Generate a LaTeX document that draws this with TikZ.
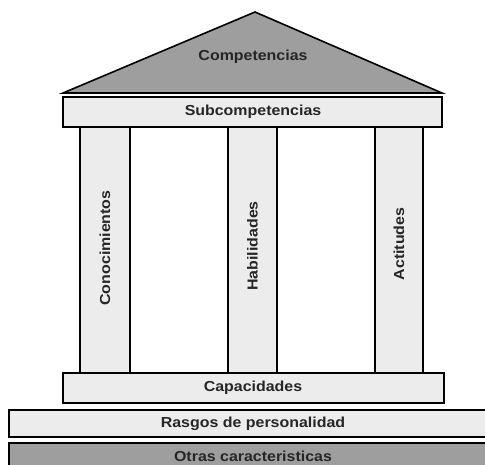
\documentclass[tikz,border=0pt]{standalone}
\usepackage{fontspec}
\setmainfont{Liberation Sans}
\newfontfamily\lblfont[FakeStretch=1.1]{Liberation Sans}
\begin{document}
\begin{tikzpicture}[x=1pt,y=-1pt,
  light/.style={draw=black,line width=1.6pt,fill=lightgray!30},
  dark/.style={draw=black,line width=1.6pt,fill=black!38},
  lbl/.style={font=\lblfont\fontsize{14.5}{16}\selectfont\bfseries, text=black!85}]
\useasboundingbox (0,0) rectangle (485,464);
\fill[white] (0,0) rectangle (485,464);
% roof
\draw[dark,line join=miter] (63,93) -- (255,12) -- (442,93) -- cycle;
\node[lbl] (comp) at (253,57) {Competencias};
% subcompetencias
\draw[light] (63,97) rectangle (442,127);
\node[lbl] (sub) at (253,112) {Subcompetencias};
% pillars
\draw[light] (80,127) rectangle (130,373);
\draw[light] (228,127) rectangle (277,373);
\draw[light] (375,127) rectangle (423,373);
\node[lbl,rotate=90] (con) at (105,248) {Conocimientos};
\node[lbl,rotate=90] (hab) at (252.5,246) {Habilidades};
\node[lbl,rotate=90] (act) at (399,244) {Actitudes};
% capacidades
\draw[light] (63,373) rectangle (444,403);
\node[lbl] (cap) at (253,388) {Capacidades};
% rasgos
\draw[light] (9,410) rectangle (490,437);
\node[lbl] (ras) at (253,423.5) {Rasgos de personalidad};
% otras
\draw[dark] (9,443) rectangle (490,470);
\node[lbl] (otr) at (253,456) {Otras caracteristicas};
\end{tikzpicture}
\end{document}
